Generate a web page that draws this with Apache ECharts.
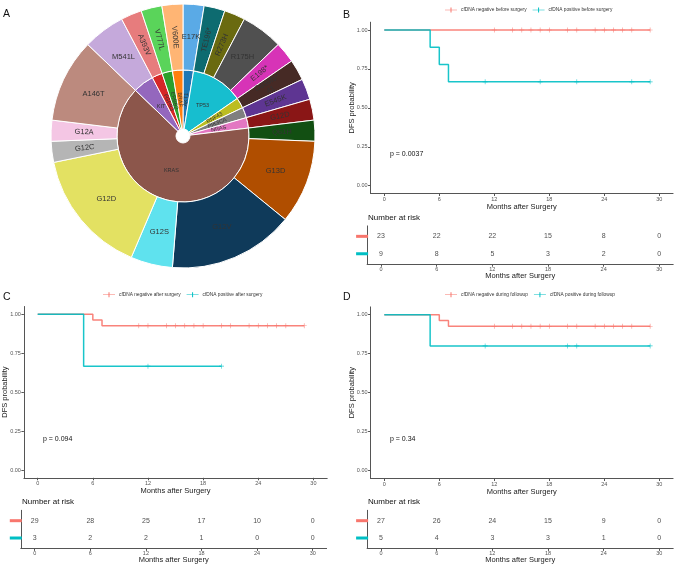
<!DOCTYPE html>
<html><head><meta charset="utf-8">
<script src="https://cdn.jsdelivr.net/npm/echarts@6/dist/echarts.min.js"></script>
<style>html,body{margin:0;padding:0;background:#fff}#c{width:676px;height:568px}</style>
</head><body><div id="c"></div>
<script>
// ---------- Panel A : gene / mutation counts ----------
const genes = ['AKT1','TP53','RNF43','PIK3CA','NRAS','KRAS','KIT','FGFR3','ERBB2','BRAF'];
const mutations = [['E17K'],['TE196*','R273H','R175H','E198*'],['G659fs*41'],['E545K'],['G12D'],
  ['Q61H','G13D','G12V','G12S','G12D','G12C','G12A','A146T'],['M541L'],['A393V'],['V777L'],['V600E']];
const mutationCounts = [[1],[1,1,2,1],[1],[1],[1],[1,4,6,2,6,1,1,4],[2],[1],[1],[1]];
const geneColors = ['#1f77b4','#17becf','#bcbd22','#7f7f7f','#e377c2','#8c564b','#9467bd','#d62728','#2ca02c','#ff7f0e'];
const mutationColors = [['#5aaae6'],['#0d6b70','#6a6a10','#505050','#d733b7'],['#462a25'],['#5e3592'],['#8a1616'],
  ['#124f12','#b04e00','#0f3a5a','#5fe2ee','#e3e162','#b5b5b5','#f4c6e4','#bc8a7e'],['#c5a9db'],['#e77c7d'],['#5ad45a'],['#ffb574']];

// ---------- KM panels ----------
const tickMonths = [0,6,12,18,24,30];
const yTicks = [0,0.25,0.5,0.75,1];
const riskTimes = [0,6,12,18,24,30];
// B
const bNegEvents = [], bNegSurv = [], bNegEnd = 29, bNegCensor = [12,14,15,16,17,18,20,21,23,24,25,26,27,29];
const bPosEvents = [5,6,7], bPosSurv = [0.889,0.778,0.667], bPosEnd = 29, bPosCensor = [11,17,21,27,29];
const bRiskNeg = [23,22,22,15,8,0], bRiskPos = [9,8,5,3,2,0];
// C
const cNegEvents = [6,7], cNegSurv = [0.963,0.926], cNegEnd = 29, cNegCensor = [11,12,14,15,16,17,18,20,21,23,24,25,26,27,29];
const cPosEvents = [5], cPosSurv = [0.667], cPosEnd = 20, cPosCensor = [12,20];
const cRiskNeg = [29,28,25,17,10,0], cRiskPos = [3,2,2,1,0,0];
// D
const dNegEvents = [6,7], dNegSurv = [0.963,0.926], dNegEnd = 29, dNegCensor = [12,14,15,16,17,18,20,21,23,24,25,26,27,29];
const dPosEvents = [5], dPosSurv = [0.8], dPosEnd = 29, dPosCensor = [11,20,21,29];
const dRiskNeg = [27,26,24,15,9,0], dRiskPos = [5,4,3,3,1,0];

const RED = '#F8766D', TEAL = '#00BFC4';
const FONT = 'Liberation Sans, Arial, sans-serif';
const AX = '#555';

function survAt(t, ev, sv){ let s = 1; ev.forEach((e,i)=>{ if (e <= t) s = sv[i]; }); return s; }
function kmLine(ev, sv, end){ const p = [[0,1]]; ev.forEach((t,i)=>p.push([t, sv[i]])); p.push([end, survAt(end, ev, sv)]); return p; }
const PLUS = 'path://M-0.5,-4H0.5V-0.5H4V0.5H0.5V4H-0.5V0.5H-4V-0.5H-0.5Z';
const LEGICON = 'path://M0,2.2H5.5V0H6.5V2.2H12V2.8H6.5V5H5.5V2.8H0Z';

const grids = [], xAxes = [], yAxes = [], series = [], legends = [];

function addPanel(cfg){
  const gMain = grids.length;
  grids.push({left: cfg.main[0], top: cfg.main[1], width: cfg.main[2], height: cfg.main[3], outerBoundsMode:'none'});
  grids.push({left: cfg.tab[0], top: cfg.tab[1], width: cfg.tab[2], height: cfg.tab[3], outerBoundsMode:'none'});
  const axLine = {show:true, onZero:false, lineStyle:{color:AX, width:1}};
  const tick = {show:true, length:2.5, lineStyle:{color:AX}};
  // main axes
  xAxes.push({gridIndex:gMain, type:'value', min:-1.5, max:31.5, axisLine:axLine, splitLine:{show:false},
    axisTick:Object.assign({customValues:tickMonths}, tick),
    axisLabel:{customValues:tickMonths, fontSize:5.5, color:'#555', margin:3, fontFamily:FONT},
    name:'Months after Surgery', nameLocation:'middle', nameGap:9, nameMoveOverlap:false,
    nameTextStyle:{fontSize:7.5, color:'#222', fontFamily:FONT}});
  yAxes.push({gridIndex:gMain, type:'value', min:-0.05, max:1.05, axisLine:axLine, splitLine:{show:false},
    axisTick:Object.assign({customValues:yTicks}, tick),
    axisLabel:{customValues:yTicks, fontSize:5.5, color:'#555', margin:3, fontFamily:FONT, formatter:v=>v.toFixed(2)},
    name:'DFS probability', nameLocation:'middle', nameGap:15, nameMoveOverlap:false,
    nameTextStyle:{fontSize:7.5, color:'#222', fontFamily:FONT}});
  // table axes
  xAxes.push({gridIndex:gMain+1, type:'value', min:-1.5, max:31.5, axisLine:axLine, splitLine:{show:false},
    axisTick:Object.assign({customValues:tickMonths}, tick),
    axisLabel:{customValues:tickMonths, fontSize:5.5, color:'#555', margin:2, fontFamily:FONT},
    name:'Months after Surgery', nameLocation:'middle', nameGap:8, nameMoveOverlap:false,
    nameTextStyle:{fontSize:7.5, color:'#222', fontFamily:FONT}});
  yAxes.push({gridIndex:gMain+1, type:'value', min:0.4, max:2.6, inverse:true, axisLine:axLine, splitLine:{show:false},
    axisTick:{show:false},
    axisLabel:{customValues:[1,2], margin:-1, formatter:v=> v===1 ? '{n|}' : '{p|}',
      rich:{n:{backgroundColor:RED, width:12, height:3}, p:{backgroundColor:TEAL, width:12, height:3}}}});
  const names = cfg.names;
  const curves = [[cfg.negEv, cfg.negSv, cfg.negEnd, cfg.negCen, RED, names[0]],
                  [cfg.posEv, cfg.posSv, cfg.posEnd, cfg.posCen, TEAL, names[1]]];
  curves.forEach(c=>{
    series.push({type:'line', name:c[5], xAxisIndex:gMain, yAxisIndex:gMain, step:'end', showSymbol:false,
      data:kmLine(c[0],c[1],c[2]), lineStyle:{color:c[4], width:1.5, opacity:0.9}, itemStyle:{color:c[4]}, silent:true, z:3});
    series.push({type:'scatter', name:c[5]+' censor', xAxisIndex:gMain, yAxisIndex:gMain, symbol:PLUS, symbolSize:5,
      data:c[3].map(t=>[t, survAt(t,c[0],c[1])]), itemStyle:{color:c[4]}, silent:true, z:4});
  });
  [[cfg.riskNeg,1],[cfg.riskPos,2]].forEach(r=>{
    series.push({type:'scatter', name:'risk'+gMain+'_'+r[1], xAxisIndex:gMain+1, yAxisIndex:gMain+1, symbolSize:0,
      data:riskTimes.map((t,i)=>[t, r[1], r[0][i]]),
      label:{show:true, position:'inside', formatter:p=>String(p.value[2]), fontSize:7, color:'#222', fontFamily:FONT}, silent:true});
  });
  legends.push({data:names.map(n=>({name:n, icon:LEGICON})), left:cfg.leg[0], top:cfg.leg[1], padding:0, itemGap:6,
    itemWidth:12, itemHeight:5, textStyle:{fontSize:4.8, color:'#333', fontFamily:FONT, padding:[0,0,0,-1]}, selectedMode:false});
}

addPanel({main:[370.55,22.2,302.5,171.3], tab:[367.1,225.9,306.1,38.3], leg:[445,7.5],
  names:['cfDNA negative before surgery','cfDNA positive before surgery'],
  negEv:bNegEvents, negSv:bNegSurv, negEnd:bNegEnd, negCen:bNegCensor,
  posEv:bPosEvents, posSv:bPosSurv, posEnd:bPosEnd, posCen:bPosCensor, riskNeg:bRiskNeg, riskPos:bRiskPos});
addPanel({main:[23.9,306.5,303.3,171.3], tab:[20.8,510.3,305.8,38.1], leg:[103,292.2],
  names:['cfDNA negative after surgery','cfDNA positive after surgery'],
  negEv:cNegEvents, negSv:cNegSurv, negEnd:cNegEnd, negCen:cNegCensor,
  posEv:cPosEvents, posSv:cPosSurv, posEnd:cPosEnd, posCen:cPosCensor, riskNeg:cRiskNeg, riskPos:cRiskPos});
addPanel({main:[370.55,306.9,302.5,171.6], tab:[367.1,510.3,306.1,38.1], leg:[445,292.2],
  names:['cfDNA negative during followup','cfDNA positive during followup'],
  negEv:dNegEvents, negSv:dNegSurv, negEnd:dNegEnd, negCen:dNegCensor,
  posEv:dPosEvents, posSv:dPosSurv, posEnd:dPosEnd, posCen:dPosCensor, riskNeg:dRiskNeg, riskPos:dRiskPos});

// sunburst
const sunData = genes.map((g,i)=>{
  const total = mutationCounts[i].reduce((a,b)=>a+b,0);
  return {name:g, itemStyle:{color:geneColors[i]}, label:{rotate: total<=1 ? 'radial' : 0},
    children: mutations[i].map((m,j)=>({name:m, value:mutationCounts[i][j], itemStyle:{color:mutationColors[i][j]},
      label:{rotate: (mutationCounts[i][j]<=1 && m!=='E17K') ? 'radial' : 0}}))};
});
series.push({type:'sunburst', center:[183,136], radius:[7,132], sort:null, nodeClick:false, startAngle:90,
  data:sunData, itemStyle:{borderColor:'#fff', borderWidth:1},
  label:{color:'#333', fontFamily:FONT, formatter:p=> p.name.length>8 ? p.name.slice(0,7)+'\n'+p.name.slice(7) : p.name},
  levels:[{}, {r0:7, r:66, label:{fontSize:5.5}}, {r0:66, r:132, label:{fontSize:7.5}}], emphasis:{disabled:true}});

const txt = (x,y,s,fs,extra)=>({type:'text', left:x, top:y, style:Object.assign({text:s, fontSize:fs, fill:'#111', fontFamily:FONT}, extra||{})});
const graphic = [
  txt(3,9,'A',10.5), txt(343,10,'B',10.5), txt(3,292,'C',10.5), txt(343,292,'D',10.5),
  txt(390,151,'p = 0.0037',7), txt(43,436,'p = 0.094',7), txt(390,436,'p = 0.34',7),
  txt(368,214,'Number at risk',8), txt(22,498,'Number at risk',8), txt(368,498,'Number at risk',8)
];

const chart = echarts.init(document.getElementById('c'));
chart.setOption({animation:false, textStyle:{fontFamily:FONT}, grid:grids, xAxis:xAxes, yAxis:yAxes,
  legend:legends, series:series, graphic:graphic});
</script></body></html>
